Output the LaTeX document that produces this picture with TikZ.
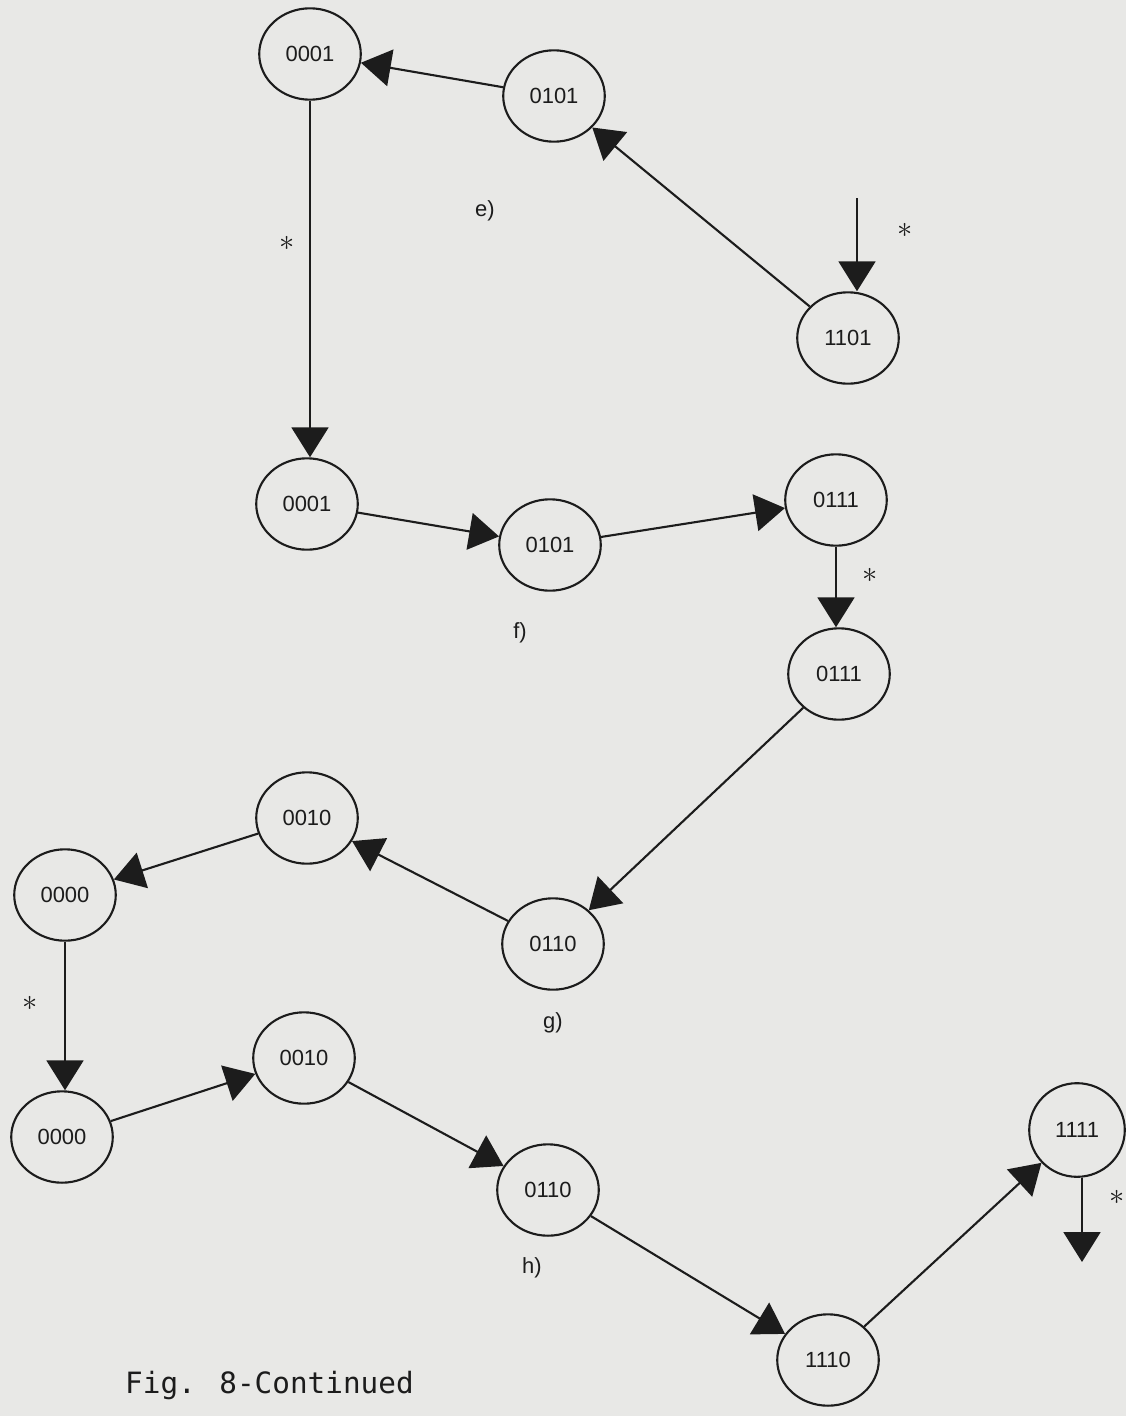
\documentclass[tikz,border=0pt]{standalone}
\usepackage{fontspec}
\setmainfont{Liberation Sans}
\newfontfamily\typewriter{DejaVu Sans Mono}
\usetikzlibrary{arrows.meta,shapes.geometric}
\definecolor{Paper}{HTML}{E8E8E6}
\definecolor{Ink}{HTML}{1C1C1C}

\begin{document}
\begin{tikzpicture}[x=0.02cm,y=-0.02cm,
    state/.style={ellipse,draw=Ink,line width=1.2pt,minimum width=57.8pt,
      minimum height=52pt,inner sep=0pt,text=Ink,font=\fontsize{12.5}{13}\selectfont},
    edge/.style={Ink,line width=1.2pt,-{Triangle[length=17pt,width=21pt]}},
    tag/.style={text=Ink,font=\fontsize{12.5}{13}\selectfont},
    star/.style={text=Ink,font=\fontsize{17}{17}\selectfont}]
    \fill[Paper] (0,0) rectangle (1126,1416);
    \useasboundingbox (0,0) rectangle (1126,1416);
    % states of parts e) to h)
    \foreach \n/\x/\y/\lab in {
      e1/310/54/0001, e2/554/96/0101, e3/848/338/1101,
      f1/307/504/0001, f2/550/545/0101, f3/836/500/0111, f4/839/674/0111,
      g1/553/944/0110, g2/307/818/0010, g3/65/895/0000,
      h1/62/1137/0000, h2/304/1058/0010, h3/548/1190/0110, h4/828/1360/1110}
      \node[state] (\n) at (\x,\y) {\lab};
    \node[state,minimum width=54.4pt,minimum height=53.3pt] (h5) at (1077,1130) {1111};
    % transitions
    \coordinate (in) at (857,198);
    \coordinate (out) at (1082,1262);
    \draw[edge] (in) -- (in |- e3.north);
    \foreach \a/\b in {e3/e2, e2/e1, f1/f2, f2/f3, f4/g1,
      g1/g2, g2/g3, h1/h2, h2/h3, h3/h4, h4/h5}
      \draw[edge] (\a) -- (\b);
    % vertical (starred) steps
    \foreach \a/\b in {e1/f1, f3/f4, g3/h1}
      \draw[edge] (\a.south) -- (\a.south |- \b.north);
    \draw[edge] (h5.south -| out) -- (out);
    \node[star] (s1) at (287,243) {$\ast$};
    \node[star] (s2) at (905,230) {$\ast$};
    \node[star] (s3) at (870,575) {$\ast$};
    \node[star] (s4) at (30,1003) {$\ast$};
    \node[star] (s5) at (1117,1197) {$\ast$};
    % part labels
    \node[tag] (le) at (485,211) {e)};
    \node[tag] (lf) at (520,633) {f)};
    \node[tag] (lg) at (553,1023) {g)};
    \node[tag] (lh) at (532,1268) {h)};
    \node[anchor=base west,text=Ink,font=\typewriter\fontsize{16.7}{17}\selectfont]
      (cap) at (119,1393) {Fig. 8-Continued};
\end{tikzpicture}
\end{document}
